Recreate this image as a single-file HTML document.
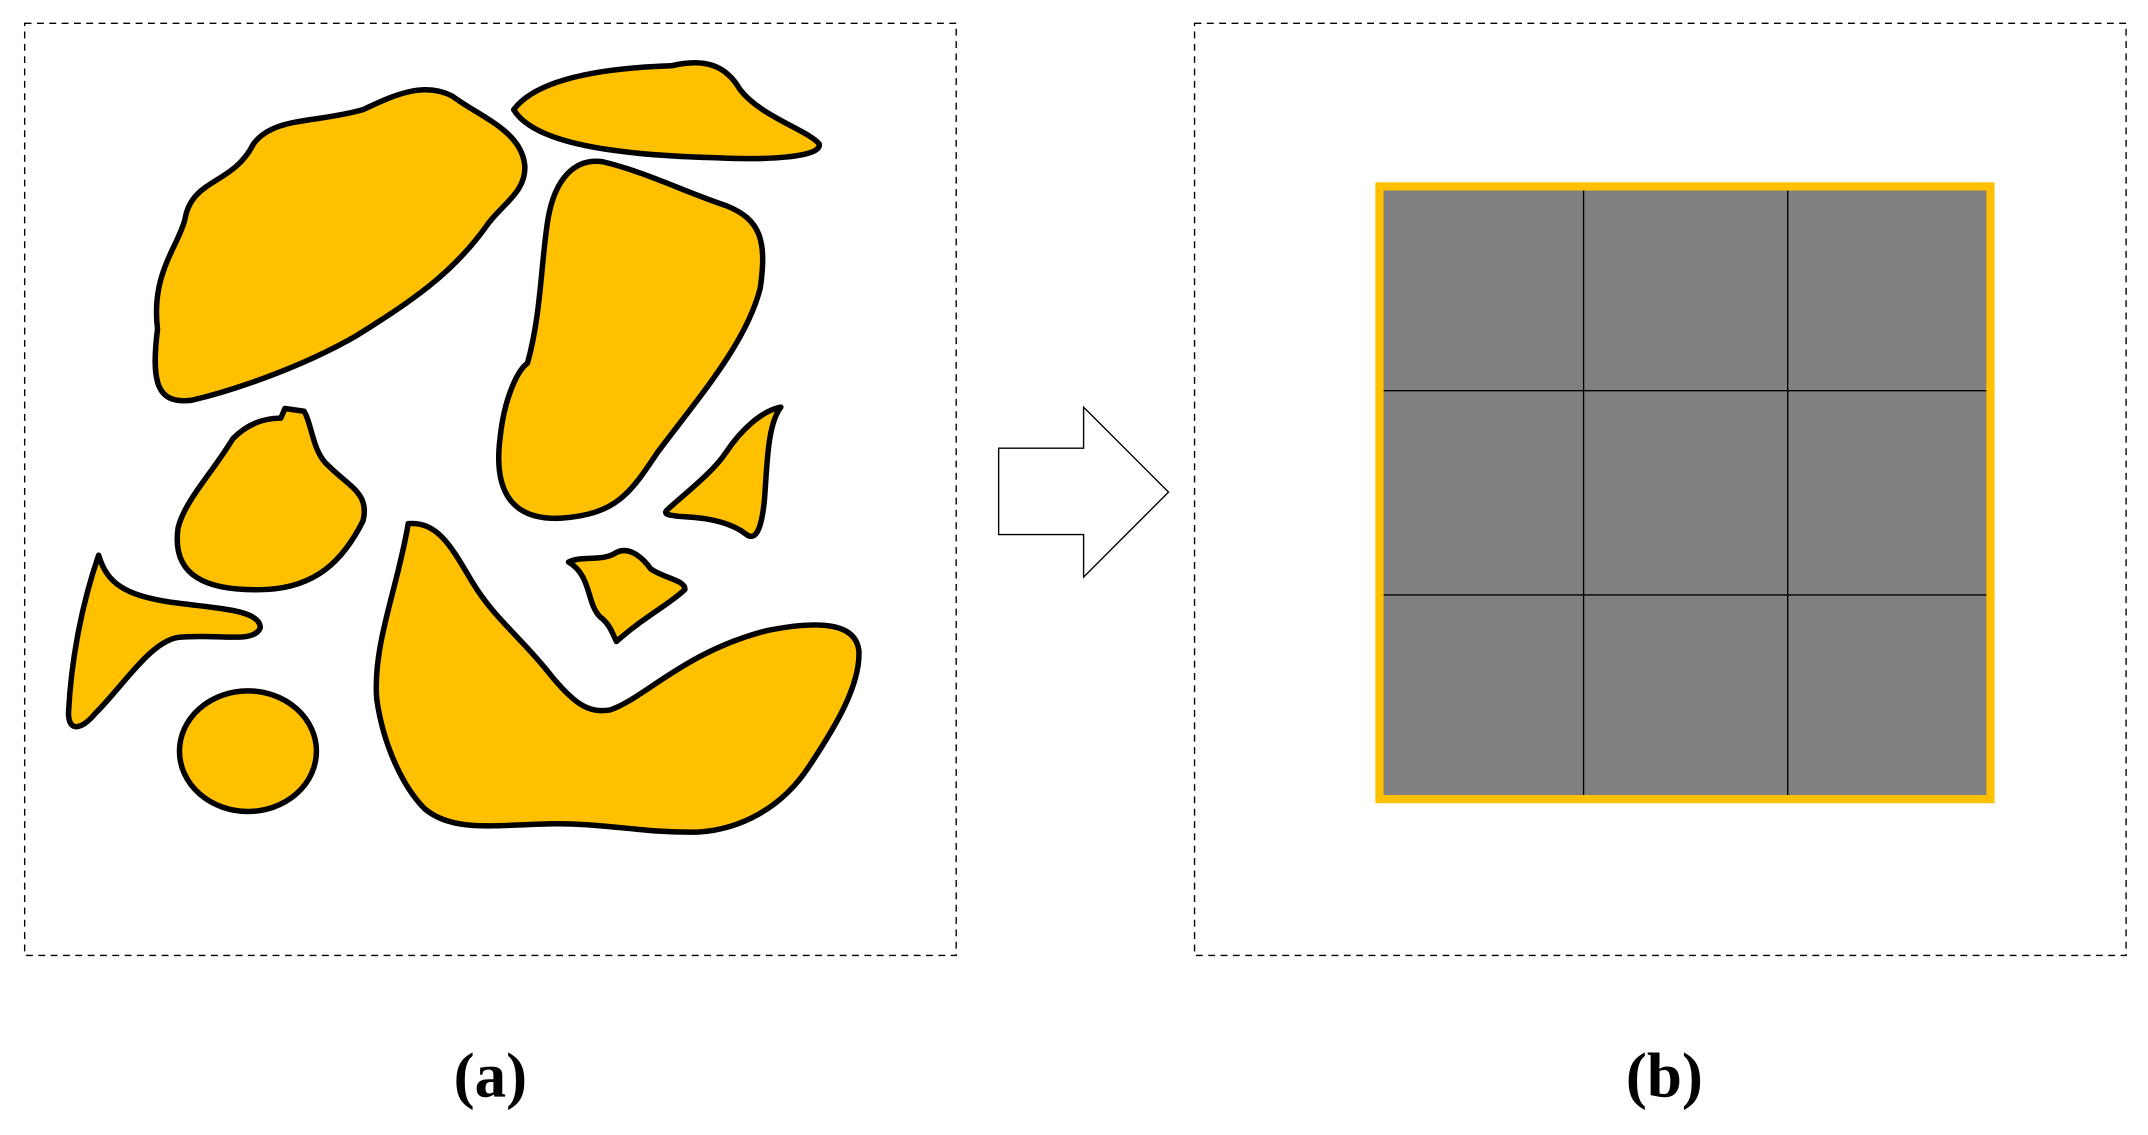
<!DOCTYPE html>
<html><head><meta charset="utf-8"><style>
html,body{margin:0;padding:0;background:#fff;}
svg{display:block;}
</style></head><body>
<svg width="2148" height="1135" viewBox="0 0 1568 828" preserveAspectRatio="none" xmlns="http://www.w3.org/2000/svg">
<rect x="18" y="17" width="680" height="680" fill="none" stroke="#000" stroke-width="1" stroke-dasharray="5,4"/>
<rect x="872" y="17" width="680" height="680" fill="none" stroke="#000" stroke-width="1" stroke-dasharray="5,4"/>
<g fill="#FFC000" stroke="#000" stroke-width="4" stroke-linejoin="round">
<path d="M115,240 C110,200 130,180 135,160 C140,130 170,135 185,105 C200,85 230,90 265,80 C290,68 310,60 330,70 C350,85 380,95 383,120 C385,140 365,150 355,165 C330,200 300,220 260,245 C220,268 170,285 140,292 C115,295 110,280 115,240 Z"/>
<path d="M375,80 C390,60 430,50 490,48 C515,42 530,48 540,65 C555,85 590,95 598,105 C600,115 560,117 520,115 C450,113 390,105 375,80 Z"/>
<path d="M385,265 C395,230 395,190 400,160 C405,130 420,115 440,118 C470,125 500,140 530,150 C555,160 560,175 555,210 C545,250 510,290 480,330 C460,360 450,375 410,378 C375,380 360,360 365,320 C368,290 378,270 385,265 Z"/>
<path d="M130,385 C135,365 155,345 170,320 C185,305 200,305 205,305 L208,298 L222,300 C228,310 228,330 240,340 C255,355 270,360 265,380 C250,410 230,428 195,430 C150,432 125,420 130,385 Z"/>
<path d="M487,372 C500,360 520,345 530,330 C540,315 555,300 570,297 C560,310 560,340 558,365 C556,385 552,395 545,390 C535,382 520,378 500,377 C487,376 484,375 487,372 Z"/>
<path d="M415,410 C425,405 440,410 450,403 C460,398 470,408 475,415 C485,422 500,423 500,430 C490,440 470,450 450,468 C447,462 445,455 438,450 C428,440 432,420 415,410 Z"/>
<path d="M72,405 C78,425 90,435 130,440 C160,444 190,445 190,458 C185,470 160,462 130,465 C110,468 90,500 70,520 C60,532 50,535 50,520 C52,480 60,440 72,405 Z"/>
<ellipse cx="181" cy="548" rx="50" ry="44"/>
<path d="M298,382 C320,380 330,400 345,425 C360,450 380,465 400,490 C420,515 430,520 445,518 C470,510 500,475 560,460 C600,452 625,455 627,475 C628,500 610,530 590,560 C570,590 540,605 510,607 C470,608 440,600 400,601 C360,602 330,607 310,590 C295,575 280,545 275,510 C272,470 290,430 298,382 Z"/>
</g>
<polygon points="729,327 791,327 791,297 853,359 791,421 791,390 729,390" fill="#fff" stroke="#000" stroke-width="1"/>
<rect x="1007" y="136" width="446" height="447" fill="#808080" stroke="#FFC000" stroke-width="6"/>
<g stroke="#000" stroke-width="1">
<line x1="1156" y1="139" x2="1156" y2="580"/>
<line x1="1305" y1="139" x2="1305" y2="580"/>
<line x1="1010" y1="285" x2="1450" y2="285"/>
<line x1="1010" y1="434" x2="1450" y2="434"/>
</g>
<text x="358" y="800" text-anchor="middle" font-family="Liberation Serif, serif" font-weight="bold" font-size="46">(a)</text>
<text x="1215" y="800" text-anchor="middle" font-family="Liberation Serif, serif" font-weight="bold" font-size="46">(b)</text>
</svg>
</body></html>
